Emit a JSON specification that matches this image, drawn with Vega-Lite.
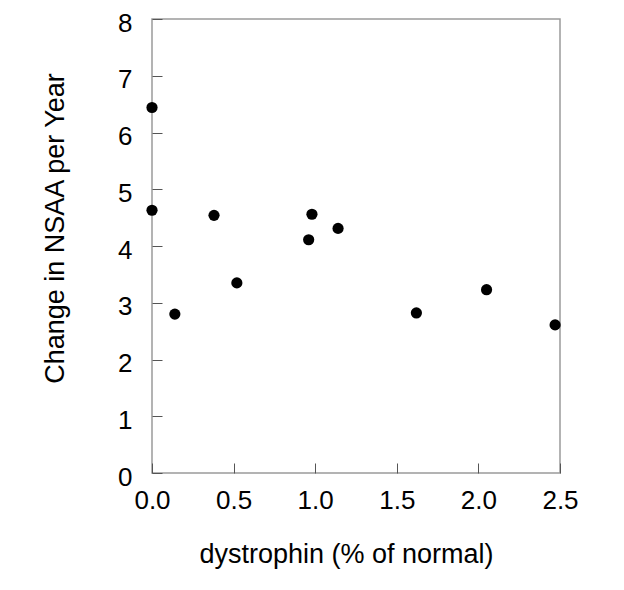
{
  "$schema": "https://vega.github.io/schema/vega-lite/v6.json",
  "autosize": {"type": "none"},
  "padding": {"left": 152, "top": 19, "right": 64, "bottom": 117},
  "width": 408,
  "height": 454,
  "background": "white",
  "config": {
    "font": "Liberation Sans",
    "view": {"stroke": "#9a9a9a", "strokeWidth": 1.5},
    "axis": {
      "grid": false,
      "domain": false,
      "tickColor": "#555555",
      "tickWidth": 1,
      "tickSize": -10,
      "labelFlush": false,
      "labelOverlap": false,
      "labelFont": "Liberation Sans",
      "labelFontSize": 26,
      "labelColor": "black",
      "titleFont": "Liberation Sans",
      "titleFontSize": 27,
      "titleFontWeight": "normal",
      "titleColor": "black"
    }
  },
  "data": {
    "values": [
      {"dystrophin": 0.0, "nsaa": 6.44},
      {"dystrophin": 0.0, "nsaa": 4.63},
      {"dystrophin": 0.14, "nsaa": 2.80},
      {"dystrophin": 0.38, "nsaa": 4.54},
      {"dystrophin": 0.52, "nsaa": 3.35},
      {"dystrophin": 0.96, "nsaa": 4.11},
      {"dystrophin": 0.98, "nsaa": 4.56},
      {"dystrophin": 1.14, "nsaa": 4.31},
      {"dystrophin": 1.62, "nsaa": 2.82},
      {"dystrophin": 2.05, "nsaa": 3.23},
      {"dystrophin": 2.47, "nsaa": 2.61}
    ]
  },
  "mark": {"type": "point", "filled": true, "color": "black", "opacity": 1, "size": 125, "clip": false},
  "encoding": {
    "x": {
      "field": "dystrophin",
      "type": "quantitative",
      "scale": {"domain": [0, 2.5], "nice": false, "zero": false},
      "axis": {
        "title": "dystrophin (% of normal)",
        "values": [0, 0.5, 1, 1.5, 2, 2.5],
        "format": ".1f",
        "labelPadding": 24,
        "titleX": 194,
        "titleY": 89,
        "titleBaseline": "alphabetic"
      }
    },
    "y": {
      "field": "nsaa",
      "type": "quantitative",
      "scale": {"domain": [0, 8], "nice": false},
      "axis": {
        "title": "Change in NSAA per Year",
        "values": [0, 1, 2, 3, 4, 5, 6, 7, 8],
        "labelPadding": 30,
        "labelOffset": 4,
        "titleX": -89,
        "titleY": 209,
        "titleAngle": -90,
        "titleBaseline": "alphabetic"
      }
    }
  }
}
